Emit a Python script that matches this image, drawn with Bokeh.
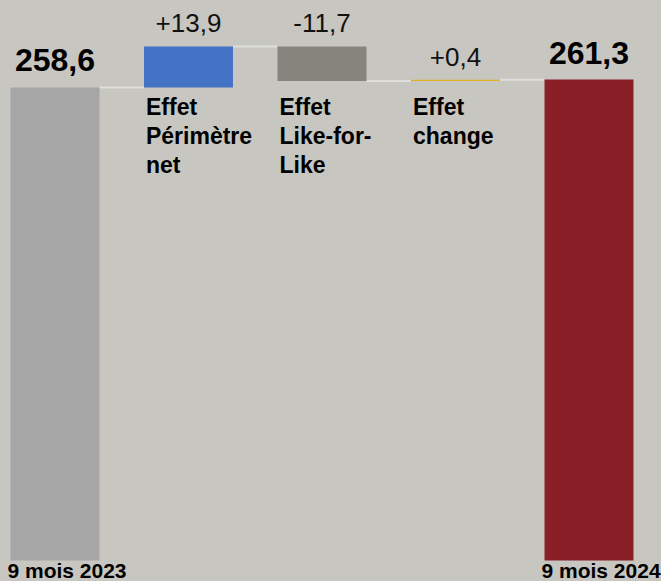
from bokeh.plotting import figure
from bokeh.models import Range1d
from bokeh.core.properties import value
from bokeh.embed import file_html
from bokeh.resources import INLINE

# ---- data ----
categories = ["9 mois 2023", "Effet\nPérimètre\nnet", "Effet\nLike-for-\nLike", "Effet\nchange", "9 mois 2024"]
values = [258.6, 13.9, -11.7, 0.4, 261.3]
value_labels = ["258,6", "+13,9", "-11,7", "+0,4", "261,3"]
kinds = ["total", "delta", "delta", "delta", "total"]

# ---- style ----
colors = ["#a6a6a6", "#4472c4", "#85857d", "#dfb226", "#8b1f28"]
bg = "#c7c6c1"
font = "Liberation Sans"
y_floor = 98.3          # axis break: bars start here
half_w = 0.3333
y0, y1 = 91.14, 288.09

# ---- waterfall geometry from data ----
idx = list(range(len(values)))
bottoms, tops, levels = [], [], []
cum = 0.0
for v, k in zip(values, kinds):
    if k == "total":
        bottoms.append(y_floor)
        tops.append(v)
        cum = v
    else:
        bottoms.append(cum)
        tops.append(cum + v)
        cum = cum + v
    levels.append(cum)

p = figure(width=661, height=581, output_backend="svg", toolbar_location=None,
           x_range=Range1d(-0.408, 4.543), y_range=Range1d(y0, y1),
           min_border=0, background_fill_color=bg, border_fill_color=bg,
           outline_line_color=None)
p.axis.visible = False
p.grid.visible = False

# connectors
p.segment(x0=[i + half_w for i in idx[:-1]], x1=[i + 1 - half_w for i in idx[:-1]],
          y0=levels[:-1], y1=levels[:-1], line_color="#dedeDA", line_width=2)

# bars
p.quad(left=[i - half_w for i in idx], right=[i + half_w for i in idx],
       bottom=[min(b, t) for b, t in zip(bottoms, tops)],
       top=[max(b, t) for b, t in zip(bottoms, tops)],
       fill_color=colors, line_color=None)

# value labels
tot = [i for i in idx if kinds[i] == "total"]
dlt = [i for i in idx if kinds[i] == "delta"]
p.text(x=tot, y=[max(bottoms[i], tops[i]) for i in tot], text=[value_labels[i] for i in tot],
       text_font=value(font), text_font_style="bold", text_font_size="32px",
       text_align="center", text_baseline="top", y_offset=-38, text_color="#000000")
p.text(x=dlt, y=[max(bottoms[i], tops[i]) for i in dlt], text=[value_labels[i] for i in dlt],
       text_font=value(font), text_font_size="26px",
       text_align="center", text_baseline="top", y_offset=-32, text_color="#111111")

# category labels for deltas (below bars)
label_top = min(min(bottoms[i], tops[i]) for i in dlt)
p.text(x=[i - half_w for i in dlt], y=[label_top for _ in dlt],
       text=[categories[i] for i in dlt], text_font=value(font), text_font_style="bold",
       text_font_size="23px", text_align="left", text_baseline="top",
       x_offset=2, y_offset=7, text_line_height=1.11, text_color="#000000")

# category labels for totals (bottom)
p.text(x=[i - half_w for i in tot], y=[y_floor for _ in tot],
       text=[categories[i] for i in tot], text_font=value(font), text_font_style="bold",
       text_font_size="21px", text_align="left", text_baseline="top",
       x_offset=-3, y_offset=-1, text_color="#000000")

html = file_html(p, INLINE)
html = html.replace("<head>", "<head><style>html,body{margin:0;padding:0;background:%s;overflow:hidden;}</style>" % bg, 1)
open("out.html", "w").write(html)
